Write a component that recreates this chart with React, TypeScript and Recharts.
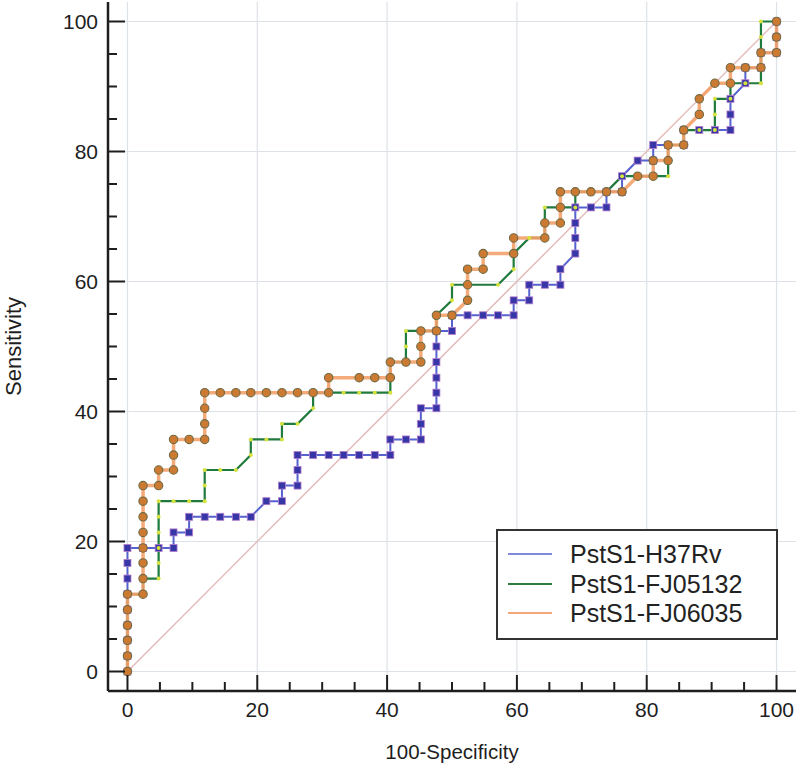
import React from 'react';
import { LineChart, Line, XAxis, YAxis, ReferenceLine, Label } from 'recharts';

// ROC points as [100-Specificity, Sensitivity]
const h37rv: [number, number][] = [
  [0, 0], [0, 2.4], [0, 4.8], [0, 7.1], [0, 9.5], [0, 11.9], [0, 14.3], [0, 16.7], [0, 19.0],
  [2.4, 19.0], [4.8, 19.0], [7.1, 19.0], [7.1, 21.4], [9.5, 21.4], [9.5, 23.8], [11.9, 23.8],
  [14.3, 23.8], [16.7, 23.8], [19.0, 23.8], [21.4, 26.2], [23.8, 26.2], [23.8, 28.6], [26.2, 28.6],
  [26.2, 31.0], [26.2, 33.3], [28.6, 33.3], [31.0, 33.3], [33.3, 33.3], [35.7, 33.3], [38.1, 33.3],
  [40.5, 33.3], [40.5, 35.7], [42.9, 35.7], [45.2, 35.7], [45.2, 38.1], [45.2, 40.5], [47.6, 40.5],
  [47.6, 42.9], [47.6, 45.2], [47.6, 47.6], [47.6, 50.0], [47.6, 52.4], [50.0, 52.4], [50.0, 54.8],
  [52.4, 54.8], [54.8, 54.8], [57.1, 54.8], [59.5, 54.8], [59.5, 57.1], [61.9, 57.1], [61.9, 59.5],
  [64.3, 59.5], [66.7, 59.5], [66.7, 61.9], [69.0, 64.3], [69.0, 66.7], [69.0, 69.0], [69.0, 71.4],
  [71.4, 71.4], [73.8, 71.4], [73.8, 73.8], [76.2, 73.8], [76.2, 76.2], [78.6, 78.6], [81.0, 78.6],
  [81.0, 81.0], [83.3, 81.0], [85.7, 81.0], [85.7, 83.3], [88.1, 83.3], [90.5, 83.3], [92.9, 83.3],
  [92.9, 85.7], [92.9, 88.1], [95.2, 90.5], [95.2, 92.9], [97.6, 92.9], [97.6, 95.2], [100, 95.2],
  [100, 97.6], [100, 100],
];

const fj05132: [number, number][] = [
  [0, 0], [0, 2.4], [0, 4.8], [0, 7.1], [0, 9.5], [0, 11.9], [2.4, 11.9], [2.4, 14.3], [4.8, 14.3],
  [4.8, 16.7], [4.8, 19.0], [4.8, 21.4], [4.8, 23.8], [4.8, 26.2], [7.1, 26.2], [9.5, 26.2],
  [11.9, 26.2], [11.9, 28.6], [11.9, 31.0], [14.3, 31.0], [16.7, 31.0], [19.0, 33.3], [19.0, 35.7],
  [21.4, 35.7], [23.8, 35.7], [23.8, 38.1], [26.2, 38.1], [28.6, 40.5], [28.6, 42.9], [31.0, 42.9],
  [33.3, 42.9], [35.7, 42.9], [38.1, 42.9], [40.5, 42.9], [40.5, 45.2], [40.5, 47.6], [42.9, 47.6],
  [42.9, 50.0], [42.9, 52.4], [45.2, 52.4], [47.6, 52.4], [47.6, 54.8], [50.0, 57.1], [50.0, 59.5],
  [52.4, 59.5], [57.1, 59.5], [59.5, 61.9], [59.5, 64.3], [61.9, 66.7], [64.3, 66.7], [64.3, 69.0],
  [64.3, 71.4], [66.7, 71.4], [69.0, 71.4], [69.0, 73.8], [71.4, 73.8], [73.8, 73.8], [76.2, 76.2],
  [78.6, 76.2], [81.0, 76.2], [83.3, 76.2], [83.3, 78.6], [83.3, 81.0], [85.7, 81.0], [85.7, 83.3],
  [88.1, 83.3], [90.5, 83.3], [90.5, 85.7], [90.5, 88.1], [92.9, 88.1], [92.9, 90.5], [95.2, 90.5],
  [97.6, 90.5], [97.6, 92.9], [97.6, 95.2], [97.6, 97.6], [97.6, 100], [100, 100],
];

const fj06035: [number, number][] = [
  [0, 0], [0, 2.4], [0, 4.8], [0, 7.1], [0, 9.5], [0, 11.9], [2.4, 11.9], [2.4, 14.3], [2.4, 16.7],
  [2.4, 19.0], [2.4, 21.4], [2.4, 23.8], [2.4, 26.2], [2.4, 28.6], [4.8, 28.6], [4.8, 31.0],
  [7.1, 31.0], [7.1, 33.3], [7.1, 35.7], [9.5, 35.7], [11.9, 35.7], [11.9, 38.1], [11.9, 40.5],
  [11.9, 42.9], [14.3, 42.9], [16.7, 42.9], [19.0, 42.9], [21.4, 42.9], [23.8, 42.9], [26.2, 42.9],
  [28.6, 42.9], [31.0, 42.9], [31.0, 45.2], [35.7, 45.2], [38.1, 45.2], [40.5, 45.2], [40.5, 47.6],
  [42.9, 47.6], [45.2, 47.6], [45.2, 50.0], [45.2, 52.4], [47.6, 52.4], [47.6, 54.8], [50.0, 54.8],
  [52.4, 57.1], [52.4, 59.5], [52.4, 61.9], [54.8, 61.9], [54.8, 64.3], [59.5, 64.3], [59.5, 66.7],
  [64.3, 66.7], [64.3, 69.0], [66.7, 69.0], [66.7, 71.4], [66.7, 73.8], [69.0, 73.8], [71.4, 73.8],
  [73.8, 73.8], [76.2, 73.8], [78.6, 76.2], [81.0, 76.2], [81.0, 78.6], [83.3, 78.6], [83.3, 81.0],
  [85.7, 81.0], [85.7, 83.3], [88.1, 85.7], [88.1, 88.1], [90.5, 90.5], [92.9, 90.5], [92.9, 92.9],
  [95.2, 92.9], [97.6, 92.9], [97.6, 95.2], [100, 95.2], [100, 97.6], [100, 100],
];

const chanceLine: [number, number][] = [[0, 0], [100, 100]];

const axisTicks = [0, 5, 10, 15, 20, 25, 30, 35, 40, 45, 50, 55, 60, 65, 70, 75, 80, 85, 90, 95, 100];
const gridValues = [0, 20, 40, 60, 80, 100];
const seriesNames = ['PstS1-H37Rv', 'PstS1-FJ05132', 'PstS1-FJ06035'];
const seriesColors = ['#5562cf', '#1f7a3e', '#f4a16c'];
const legendColors = ['#7f8bd8', '#2a7f3e', '#f5a77a'];

const FONT = '"Liberation Sans", Arial, sans-serif';
const AXIS = '#1e1e1e';

const rows = (pts: [number, number][]) => pts.map(([x, y]) => ({ x, y }));

const XTick = ({ x, y, payload }: any) => {
  const v = payload.value;
  const major = v % 20 === 0;
  const ay = y - 14;
  return (
    <g>
      <line x1={x} x2={x} y1={ay} y2={ay - (major ? 16 : 9)} stroke={AXIS} strokeWidth={2} />
      {major ? (
        <text x={x} y={ay + 26} textAnchor="middle" fontSize={21} fill={AXIS} fontFamily={FONT}>{v}</text>
      ) : null}
    </g>
  );
};

const YTick = ({ x, y, payload }: any) => {
  const v = payload.value;
  const major = v % 20 === 0;
  const ax = x + 10;
  return (
    <g>
      <line x1={ax} x2={ax + (major ? 17 : 9)} y1={y} y2={y} stroke={AXIS} strokeWidth={2} />
      {major ? (
        <text x={x} y={y} dy="0.36em" textAnchor="end" fontSize={21} fill={AXIS} fontFamily={FONT}>{v}</text>
      ) : null}
    </g>
  );
};

const SquareDot = (p: any) =>
  p.cx == null ? null : (
    <rect key={`sq-${p.index}`} x={p.cx - 3.5} y={p.cy - 3.5} width={7} height={7} fill="#3636a6" stroke="#b47ccc" strokeWidth={0.8} />
  );

const SmallDot = (p: any) =>
  p.cx == null ? null : <circle key={`sd-${p.index}`} cx={p.cx} cy={p.cy} r={2} fill="#d6e23e" />;

const RoundDot = (p: any) =>
  p.cx == null ? null : (
    <circle key={`rd-${p.index}`} cx={p.cx} cy={p.cy} r={4.2} fill="#cc7a32" stroke="#6f6a44" strokeWidth={1.1} />
  );

export default function App() {
  return (
    <div style={{ position: 'absolute', left: 0, top: 0, width: 800, height: 768, background: '#fff', fontFamily: FONT }}>
      <LineChart width={800} height={768} margin={{ top: 2, right: 4, bottom: 0, left: 0 }}>
        <XAxis
          dataKey="x"
          type="number"
          domain={[-3, 103]}
          ticks={axisTicks}
          interval={0}
          tickSize={0}
          tickMargin={14}
          tick={<XTick />}
          height={77}
          axisLine={{ stroke: AXIS, strokeWidth: 2.5 }}
          allowDataOverflow
        >
          <Label value="100-Specificity" position="insideBottom" offset={9} style={{ fontSize: 20.5, fill: AXIS, fontFamily: FONT }} />
        </XAxis>
        <YAxis
          type="number"
          domain={[-3, 103]}
          ticks={axisTicks}
          interval={0}
          tickSize={0}
          tickMargin={10}
          tick={<YTick />}
          width={108}
          axisLine={{ stroke: AXIS, strokeWidth: 2.5 }}
          allowDataOverflow
        >
          <Label
            content={(props: any) => {
              const vb = props.viewBox;
              const cx = vb.x + 13;
              const cy = vb.y + vb.height / 2;
              return (
                <text x={cx} y={cy} transform={`rotate(-90 ${cx} ${cy})`} textAnchor="middle" dominantBaseline="central" fontSize={22} fill={AXIS} fontFamily={FONT}>
                  Sensitivity
                </text>
              );
            }}
          />
        </YAxis>
        {gridValues.map((v) => (
          <ReferenceLine key={`gx-${v}`} x={v} stroke="#dde2e8" strokeWidth={1.2} />
        ))}
        {gridValues.map((v) => (
          <ReferenceLine key={`gy-${v}`} y={v} stroke="#dde2e8" strokeWidth={1.2} />
        ))}
        <Line data={rows(chanceLine)} dataKey="y" type="linear" stroke="#e4bcbc" strokeWidth={1.5} dot={false} isAnimationActive={false} />
        <Line data={rows(h37rv)} dataKey="y" name={seriesNames[0]} type="linear" stroke={seriesColors[0]} strokeWidth={2} dot={SquareDot} isAnimationActive={false} />
        <Line data={rows(fj05132)} dataKey="y" name={seriesNames[1]} type="linear" stroke={seriesColors[1]} strokeWidth={2.2} dot={SmallDot} isAnimationActive={false} />
        <Line data={rows(fj06035)} dataKey="y" name={seriesNames[2]} type="linear" stroke={seriesColors[2]} strokeWidth={3.5} strokeOpacity={0.9} dot={RoundDot} isAnimationActive={false} />
      </LineChart>
      <div
        style={{
          position: 'absolute',
          left: 496,
          top: 529,
          width: 282,
          height: 111,
          boxSizing: 'border-box',
          border: '2px solid #333',
          background: '#fff',
        }}
      >
        {seriesNames.map((n, i) => (
          <div key={n} style={{ position: 'absolute', left: 0, top: 8 + i * 29.5, height: 30, display: 'flex', alignItems: 'center' }}>
            <span style={{ display: 'inline-block', width: 44, height: 2, background: legendColors[i], marginLeft: 10, marginRight: 18 }} />
            <span style={{ fontSize: 25, color: '#222', lineHeight: '30px', whiteSpace: 'nowrap' }}>{n}</span>
          </div>
        ))}
      </div>
    </div>
  );
}
